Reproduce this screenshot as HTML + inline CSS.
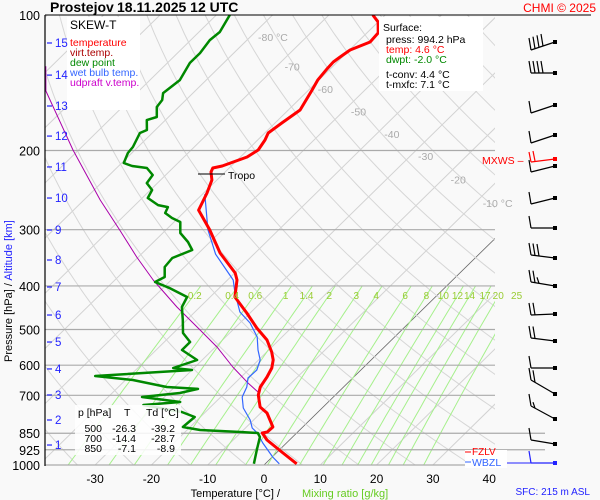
<!DOCTYPE html>
<html><head><meta charset="utf-8"><style>
html,body{margin:0;padding:0;background:#f9f9f9;}
svg{display:block;font-family:"Liberation Sans",Arial,sans-serif;}
</style></head><body>
<svg id="chart" width="600" height="500" viewBox="0 0 600 500">
<defs><clipPath id="plotclip"><rect x="45" y="15" width="450" height="450"/></clipPath></defs>
<rect x="0" y="0" width="600" height="500" fill="#f9f9f9"/>
<g id="grid" clip-path="url(#plotclip)"></g>
<g id="isobars"></g>
<g id="series" clip-path="url(#plotclip)"></g>
<g>
<rect x="67" y="17" width="73" height="93" fill="#fff"/>
<text x="70" y="29" font-size="12">SKEW-T</text>
<text x="70" y="46" font-size="10.5" fill="#f00">temperature</text>
<text x="70" y="56" font-size="10.5" fill="#a00">virt.temp.</text>
<text x="70" y="66" font-size="10.5" fill="#080">dew point</text>
<text x="70" y="76" font-size="10.5" fill="#36f">wet bulb temp.</text>
<text x="70" y="86" font-size="10.5" fill="#c0c">udpraft v.temp.</text>
</g>
<g id="labels"></g>
<g id="barbs"></g>

<text x="50" y="12" font-size="14" font-weight="bold">Prostejov<tspan x="117">18.11.2025 12 UTC</tspan></text>
<text x="596" y="12" font-size="12" fill="#f00" text-anchor="end">CHMI © 2025</text>
<line x1="45" y1="15" x2="591" y2="15" stroke="#000" stroke-width="1"/>
<line x1="45" y1="15" x2="45" y2="466" stroke="#000" stroke-width="1.2"/>

<g>
<rect x="379" y="17" width="104" height="74" fill="#fff"/>
<text x="383" y="31" font-size="10.5">Surface:</text>
<text x="386" y="43" font-size="10.5">press: 994.2 hPa</text>
<text x="386" y="53" font-size="10.5" fill="#f00">temp: 4.6 °C</text>
<text x="386" y="63" font-size="10.5" fill="#080">dwpt: -2.0 °C</text>
<text x="386" y="78" font-size="10.5">t-conv: 4.4 °C</text>
<text x="386" y="88" font-size="10.5">t-mxfc: 7.1 °C</text>
</g>

<g>
<rect x="75" y="405" width="106" height="50" fill="#fff" fill-opacity="0.85"/>
<text x="78" y="416" font-size="10.5">p [hPa]</text>
<text x="124" y="416" font-size="10.5">T</text>
<text x="146" y="416" font-size="10.5">Td [°C]</text>
<text x="102" y="432" font-size="10.5" text-anchor="end">500</text><text x="136" y="432" font-size="10.5" text-anchor="end">-26.3</text><text x="175" y="432" font-size="10.5" text-anchor="end">-39.2</text>
<text x="102" y="442" font-size="10.5" text-anchor="end">700</text><text x="136" y="442" font-size="10.5" text-anchor="end">-14.4</text><text x="175" y="442" font-size="10.5" text-anchor="end">-28.7</text>
<text x="102" y="452" font-size="10.5" text-anchor="end">850</text><text x="136" y="452" font-size="10.5" text-anchor="end">-7.1</text><text x="175" y="452" font-size="10.5" text-anchor="end">-8.9</text>
</g>

<g>
<line x1="198" y1="174" x2="225" y2="174" stroke="#000" stroke-width="1"/>
<text x="228" y="179" font-size="10.5">Tropo</text>
</g>
<text x="482" y="164" font-size="10.5" fill="#f00">MXWS –</text>
<g>
<rect x="465" y="450" width="42" height="18" fill="#fff"/>
<line x1="465" y1="452" x2="471" y2="452" stroke="#f00"/>
<text x="472" y="455" font-size="10" fill="#f00">FZLV</text>
<line x1="465" y1="462" x2="471" y2="462" stroke="#36f"/>
<text x="472" y="466" font-size="10.5" fill="#36f">WBZL</text>
</g>

<text x="280" y="497" font-size="11" text-anchor="end">Temperature [°C]  / </text>
<text x="302" y="497" font-size="11" fill="#6c2">Mixing ratio [g/kg]</text>
<text x="590" y="495" font-size="10" fill="#22f" text-anchor="end">SFC: 215 m ASL</text>
<text transform="translate(12,362) rotate(-90)" font-size="11">Pressure [hPa]  / <tspan fill="#22f">Altitude [km]</tspan></text>
</svg>
<script>
const isobarLevels=[100,200,300,400,500,600,700,850,925,1000];
const tempTicks=[-30,-20,-10,0,10,20,30,40];
const altKm=[1,2,3,4,5,6,7,8,9,10,11,12,13,14,15];
const altPres=[902.8,794.3,698.8,611.7,533.0,464.2,402.2,350.3,300.5,255.1,217.6,185.8,159.3,136.0,115.4];
const isoLabelT=[-80,-70,-60,-50,-40,-30,-20,-10];
const isoLabelP=[112,130,146,164,184,206,232,262];
const mixRatios=[0.2,0.4,0.6,1,1.4,2,3,4,6,8,10,12,14,17,20,25];
const tempP=[100,103.6,109.6,114.8,119.6,124,127.2,131.2,139.5,146.8,162.6,173.8,182.9,189.6,199.5,206.8,216.5,218.8,223.3,232.6,248.6,271.3,300.5,338,374.4,388.1,423.3,459.4,496.2,527.6,561,584.3,608.7,637.5,670.8,698.8,743.2,766.3,823.2,844.5,848.8,880,935.6,994];
const tempT=[-62.2,-60.0,-58.0,-57.8,-59.9,-60.4,-60.7,-60.6,-60.2,-59.4,-57.9,-58.8,-59.4,-58.7,-58.1,-58.8,-61.6,-62.9,-62.5,-60.9,-59.4,-57.8,-52.2,-46.2,-39.9,-38.3,-35.6,-30.6,-26.1,-22.1,-19.1,-17.4,-16.2,-15.4,-14.8,-13.7,-11.2,-8.9,-5.3,-5.4,-6.1,-4.0,0.8,5.6];
const dewP=[100,109.1,113.7,121.5,127.8,139.5,149.1,154.5,160.1,168.5,171.2,180.1,182.9,196.5,202.6,213.3,216.5,218.8,226.8,236.3,244.8,255.1,264.5,267.2,275.4,282.5,288.4,305.1,319.5,332.9,346.7,363.1,382.2,392.1,404.4,423.3,445.6,476.2,508.9,533,555.3,584.3,608.7,615,634.3,647.4,670.8,677.6,691.8,706.1,724.4,735.6,762.4,782.2,823.2,835.9,844.5,848.8,866.7,926.2,994];
const dewT=[-87.6,-86.3,-86.6,-86.0,-86.0,-84.7,-85.3,-84.2,-83.9,-82.1,-83.3,-81.5,-82.2,-80.9,-80.7,-79.6,-77.6,-74.6,-72.3,-71.9,-69.7,-69.0,-65.9,-63.8,-63.2,-61.1,-58.9,-56.9,-53.9,-51.7,-53.8,-53.5,-51.7,-52.5,-48.8,-44.1,-43.2,-40.7,-38.3,-35.4,-35.4,-30.9,-33.7,-30.0,-46.1,-38.7,-31.4,-25.5,-28.0,-34.0,-26.3,-32.3,-24.2,-21.0,-21.3,-17.7,-10.2,-6.9,-5.8,-4.0,-2.0];
const wetP=[250,300,340,388,414.8,457.1,483.5,519.4,555.3,584.3,615,640.8,670.8,706.1,747,794.3,827.5,848.8,893.5,960,994];
const wetT=[-59.6,-52.6,-46.8,-39.0,-36.3,-32.0,-28.2,-24.4,-21.9,-19.7,-18.5,-18.6,-17.2,-16.2,-14.0,-10.6,-8.8,-7.0,-4.2,0.1,2.5];
const parcelP=[130,147.5,199.5,257.7,300.5,345,388,445.6,501.2,546.9,605.6,657.3,688.2];
const parcelT=[-111,-106.5,-91.0,-77.1,-68.2,-60.3,-53.2,-44.1,-35.8,-29.7,-23.3,-17.7,-14.3];
const barbY=[42,73,105,135,166,198,228,258,286,314,341,368,394,419,444,463];
const barbDir=[8,0,8,8,6,6,0,-3,-4,1,-3,0,-14,-13,-4,0];
const barbCount=[4,4,1,1,1,1,1,3,2.5,2,2,1,2,1.5,1,1];

const NS='http://www.w3.org/2000/svg';
function yP(p){return 15+450*Math.log10(p/100);}
function xT(T,y){return 264+5.63*T+(465-y)*1.02;}
function mk(tag,attrs,parent){const e=document.createElementNS(NS,tag);for(const k in attrs)e.setAttribute(k,attrs[k]);parent.appendChild(e);return e;}
const grid=document.getElementById('grid');
for(let T=-130;T<=50;T+=10){
  const l=mk('line',{x1:xT(T,465),y1:465,x2:xT(T,15),y2:15,stroke:T===0?'#666':'#d2d2d2','stroke-width':T===0?0.8:1},grid);
  
  
}
for(let th=230;th<=480;th+=10){
  let pts=[];
  for(let p=1000;p>=100;p-=10){const T=th*Math.pow(p/1000,0.286)-273.15;const y=yP(p);pts.push(xT(T,y).toFixed(1)+','+y.toFixed(1));}
  const pl=mk('polyline',{points:pts.join(' '),fill:'none',stroke:'#d6d6d6','stroke-width':1},grid);
  
  
}
function tdFromW(w,p){const e=w*p/(622+w);const a=Math.log(e/6.112);return 243.5*a/(17.67-a);}
const labels=document.getElementById('labels');
mixRatios.forEach(w=>{
  let pts=[];
  for(let p=1000;p>=400;p-=20){const y=yP(p);pts.push(xT(tdFromW(w,p),y).toFixed(1)+','+y.toFixed(1));}
  const pl=mk('polyline',{points:pts.join(' '),fill:'none',stroke:'#a6f08c','stroke-width':1},grid);
  
  
  const y4=yP(400);
  const t=mk('text',{x:xT(tdFromW(w,400),y4)-6,y:299,'font-size':10,fill:'#9c3','text-anchor':'middle'},labels);
  t.textContent=String(w);
  
  
});
const iso=document.getElementById('isobars');
isobarLevels.forEach(p=>{
  const y=yP(p);
  const x2=(p===850||p===925)?545:495;
  if(p!==100){const l=mk('line',{x1:45,y1:y,x2:x2,y2:y,stroke:'#aaa','stroke-width':1.2},iso);
  
  }
  const t=mk('text',{x:40,y:y+5,'font-size':12.5,'text-anchor':'end'},labels);
  t.textContent=String(p);
  
  
});
tempTicks.forEach(T=>{
  const t=mk('text',{x:xT(T,465),y:483,'font-size':12,'text-anchor':'middle'},labels);
  t.textContent=String(T);
  
  
});
altKm.forEach((k,i)=>{
  const y=yP(altPres[i]);
  const l=mk('line',{x1:47,y1:y,x2:52,y2:y,stroke:'#22f','stroke-width':1.2},labels);
  
  
  const t=mk('text',{x:55,y:y+4,'font-size':11.5,fill:'#22f'},labels);
  t.textContent=String(k);
  
  
});
isoLabelT.forEach((T,i)=>{
  const y=yP(isoLabelP[i]);
  const t=mk('text',{x:xT(T,y)+8,y:y+4,'font-size':10.5,fill:'#aaa'},labels);
  t.textContent=(i===0||i===isoLabelT.length-1)?T+' °C':String(T);
  
  
});
const ser=document.getElementById('series');
function line(P,T,color,w,name){
  const pts=P.map((p,i)=>{const y=yP(p);return xT(T[i],y).toFixed(1)+','+y.toFixed(1);}).join(' ');
  const pl=mk('polyline',{points:pts,fill:'none',stroke:color,'stroke-width':w,'stroke-linejoin':'round'},ser);
  
  
}
line(parcelP,parcelT,'#a0a',1,'updraft-line');
line(wetP,wetT,'#36f',1.2,'wet-bulb-line');
line(dewP,dewT,'#080',2.5,'dew-point-line');
line(tempP,tempT,'#f00',3,'temperature-line');
const bg=document.getElementById('barbs');
barbY.forEach((y,i)=>{
  const col=i===15?'#22f':'#000';
  const x0=555,x1=531,y1=y+barbDir[i];
  const g=mk('g',{},bg);
  
  
  mk('line',{x1:x0,y1:y,x2:x1,y2:y1,stroke:col,'stroke-width':1.2},g);
  mk('rect',{x:x0-2,y:y-2,width:4,height:4,fill:col},g);
  const n=barbCount[i];
  for(let k=0;k<Math.ceil(n);k++){
    const f=k*4/24;
    const bx=x1+(x0-x1)*f, by=y1+(y-y1)*f;
    const len=(k===Math.floor(n)&&n%1)?6:12;
    mk('line',{x1:bx,y1:by,x2:bx-2,y2:by-len,stroke:col,'stroke-width':1.2},g);
  }
});
const mx=mk('g',{},bg);


mk('line',{x1:555,y1:159,x2:531,y2:162,stroke:'#f00','stroke-width':1.2},mx);
mk('rect',{x:553,y:157,width:4,height:4,fill:'#f00'},mx);
mk('line',{x1:531,y1:162,x2:529,y2:152,stroke:'#f00','stroke-width':1.2},mx);
mk('line',{x1:535,y1:161,x2:533,y2:151,stroke:'#f00','stroke-width':1.2},mx);
mk('line',{x1:495,y1:463,x2:545,y2:463,stroke:'#22f','stroke-width':1},mx);
</script>
</body></html>
